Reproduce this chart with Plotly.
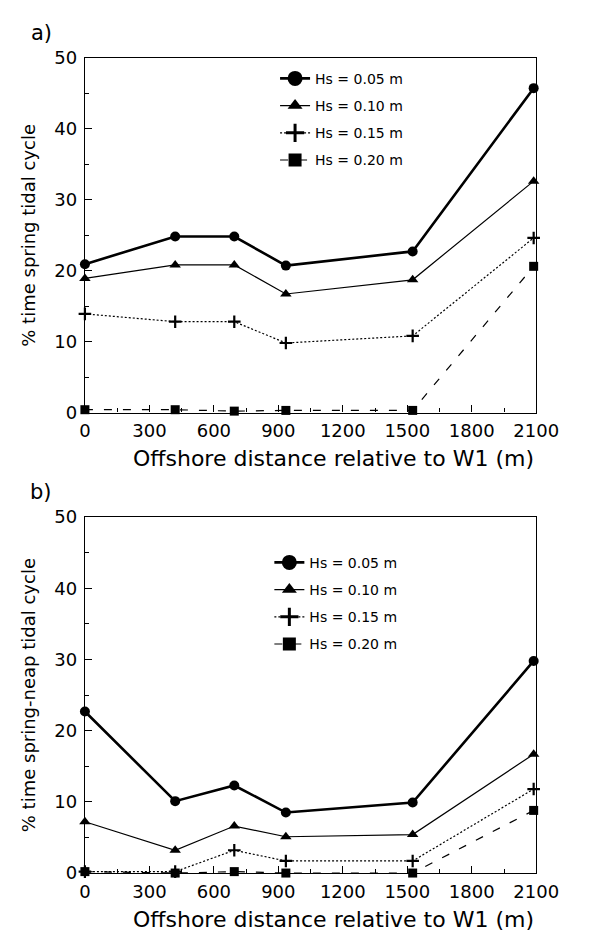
import plotly.graph_objects as go

# ---------------- data ----------------
distance = [0, 420, 695, 935, 1525, 2088]
series_names = ["Hs = 0.05 m", "Hs = 0.10 m", "Hs = 0.15 m", "Hs = 0.20 m"]

spring_005 = [20.9, 24.8, 24.8, 20.7, 22.7, 45.7]
spring_010 = [18.9, 20.8, 20.8, 16.7, 18.7, 32.6]
spring_015 = [13.9, 12.8, 12.8, 9.8, 10.8, 24.6]
spring_020 = [0.4, 0.4, 0.2, 0.3, 0.3, 20.6]

neap_005 = [22.7, 10.1, 12.3, 8.5, 9.9, 29.8]
neap_010 = [7.2, 3.2, 6.6, 5.1, 5.4, 16.7]
neap_015 = [0.2, 0.2, 3.2, 1.7, 1.7, 11.8]
neap_020 = [0.2, 0.0, 0.2, 0.0, 0.0, 8.8]

x_ticks = [0, 300, 600, 900, 1200, 1500, 1800, 2100]
y_ticks = [0, 10, 20, 30, 40, 50]

FONT = "DejaVu Sans"
W, H = 589, 942

styles = [
    dict(symbol="circle", size=10, lsize=15, width=2.6, dash="solid"),
    dict(symbol="triangle-up", size=10, lsize=13, width=1.2, dash="solid"),
    dict(symbol="cross-thin", size=9, lsize=13, width=1.2, dash="2px,2px"),
    dict(symbol="square", size=9, lsize=13, width=1.2, dash="8px,11px"),
]

fig = go.Figure()


def add_panel(values, xa, ya, legend_name):
    for name, yv, st in zip(series_names, values, styles):
        is_cross = st["symbol"] == "cross-thin"
        mk = dict(symbol=st["symbol"], size=st["size"], color="black",
                  line=dict(width=2.2 if is_cross else 0, color="black"))
        fig.add_trace(go.Scatter(
            x=distance, y=yv, xaxis=xa, yaxis=ya, mode="lines+markers",
            line=dict(color="black", width=st["width"], dash=st["dash"]),
            marker=mk, cliponaxis=False, showlegend=False, name=name))
        lmk = dict(symbol=st["symbol"], size=st["lsize"], color="black",
                   line=dict(width=3 if is_cross else 0, color="black"))
        fig.add_trace(go.Scatter(
            x=[None], y=[None], xaxis=xa, yaxis=ya, mode="lines+markers",
            line=dict(color="black", width=st["width"], dash=st["dash"]),
            marker=lmk, showlegend=True, name=name, legend=legend_name,
            legendgroup=legend_name + name))


add_panel([spring_005, spring_010, spring_015, spring_020], "x", "y", "legend")
add_panel([neap_005, neap_010, neap_015, neap_020], "x2", "y2", "legend2")

xdom = [83 / W, 557.7 / W]
ydom_a = [1 - 410.7 / H, 1 - 47.7 / H]
ydom_b = [1 - 881.7 / H, 1 - 517.7 / H]

axis_common = dict(showline=True, mirror=True, linecolor="black", linewidth=1.3,
                   showgrid=False, zeroline=False, ticks="inside", ticklen=7,
                   tickcolor="black", tickwidth=1.2,
                   tickfont=dict(family=FONT, size=18, color="black"))

xcommon = dict(axis_common, range=[0, 2100], tickvals=x_ticks, domain=xdom,
               minor=dict(dtick=150, ticks="inside", ticklen=4, tickcolor="black"),
               ticklabelstandoff=2)
ycommon = dict(axis_common, range=[0, 50], tickvals=y_ticks,
               minor=dict(dtick=5, ticks="inside", ticklen=4, tickcolor="black"),
               ticklabelstandoff=3)

legend_common = dict(font=dict(family=FONT, size=14, color="black"),
                     bgcolor="rgba(0,0,0,0)", borderwidth=0, tracegroupgap=6,
                     xanchor="left", yanchor="top", itemsizing="trace")

fig.update_layout(
    width=W, height=H,
    margin=dict(l=0, r=0, t=0, b=0),
    paper_bgcolor="white", plot_bgcolor="white",
    font=dict(family=FONT, color="black"),
    xaxis=dict(xcommon, anchor="y"),
    yaxis=dict(ycommon, anchor="x", domain=ydom_a),
    xaxis2=dict(xcommon, anchor="y2"),
    yaxis2=dict(ycommon, anchor="x2", domain=ydom_b),
    legend=dict(legend_common, x=283 / W, y=1 - 53 / H),
    legend2=dict(legend_common, x=277 / W, y=1 - 548 / H),
)

annots = [
    ("a)", 37, 22, 21, 0), ("b)", 37, 492, 21, 0),
    ("% time spring tidal cycle", 24, 229, 18, -90),
    ("% time spring-neap tidal cycle", 24, 700, 18, -90),
    ("Offshore distance relative to W1 (m)", 344, 458, 22, 0),
    ("Offshore distance relative to W1 (m)", 344, 929, 22, 0),
]
for text, px, py, size, ang in annots:
    fig.add_annotation(text=text, x=px / W, y=1 - py / H, xref="paper", yref="paper",
                       showarrow=False, textangle=ang, xanchor="center", yanchor="middle",
                       font=dict(family=FONT, size=size, color="black"))

fig.write_html("out.html")
